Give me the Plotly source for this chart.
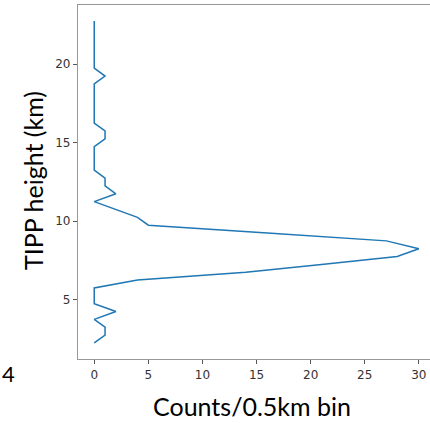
import plotly.graph_objects as go

heights_km = [2.25, 2.75, 3.25, 3.75, 4.25, 4.75, 5.25, 5.75, 6.25, 6.75,
              7.25, 7.75, 8.25, 8.75, 9.25, 9.75, 10.25, 10.75, 11.25, 11.75,
              12.25, 12.75, 13.25, 13.75, 14.25, 14.75, 15.25, 15.75, 16.25, 16.75,
              17.25, 17.75, 18.25, 18.75, 19.25, 19.75, 20.25, 20.75, 21.25, 21.75,
              22.25, 22.75]
counts = [0, 1, 1, 0, 2, 0, 0, 0, 4, 14,
          21, 28, 30, 27, 16, 5, 4, 2, 0, 2,
          1, 1, 0, 0, 0, 0, 1, 1, 0, 0,
          0, 0, 0, 0, 1, 0, 0, 0, 0, 0,
          0, 0]
x_ticks = [0, 5, 10, 15, 20, 25, 30]
y_ticks = [5, 10, 15, 20]

fig = go.Figure()
fig.add_trace(go.Scatter(x=counts, y=heights_km, mode="lines",
                         line=dict(color="#1f77b4", width=1.5), showlegend=False))

axis_font = dict(family="DejaVu Sans", size=12, color="#333333")
title_font = dict(family="Lato", size=25, color="black")
fig.update_layout(
    width=430, height=423,
    margin=dict(l=78, r=0, t=5, b=64),
    paper_bgcolor="white", plot_bgcolor="white",
    xaxis=dict(range=[-1.5, 31.03], tickvals=x_ticks, ticks="outside", ticklen=4,
               tickcolor="#555", showline=True, linecolor="#999", linewidth=1.3,
               mirror=True, showgrid=False, zeroline=False, tickfont=axis_font),
    yaxis=dict(range=[1.225, 23.775], tickvals=y_ticks, ticks="outside", ticklen=4,
               tickcolor="#555", showline=True, linecolor="#999", linewidth=1.3,
               mirror=False, showgrid=False, zeroline=False, tickfont=axis_font),
    annotations=[
        dict(text="Counts/0.5km bin", xref="paper", yref="paper",
             x=(252 - 78) / 352, y=-(406 - 359) / 354, xanchor="center", yanchor="middle",
             showarrow=False, font=title_font),
        dict(text="TIPP height (km)", xref="paper", yref="paper",
             x=-(78 - 33) / 352, y=(359 - 181) / 354, xanchor="center", yanchor="middle",
             textangle=-90, showarrow=False, font=title_font),
        dict(text="4", xref="paper", yref="paper",
             x=-(78 - 0) / 352, y=-(374 - 359) / 354, xanchor="left", yanchor="middle",
             showarrow=False, font=dict(family="Lato", size=22, color="black")),
    ],
)

fig.write_html("out.html")
